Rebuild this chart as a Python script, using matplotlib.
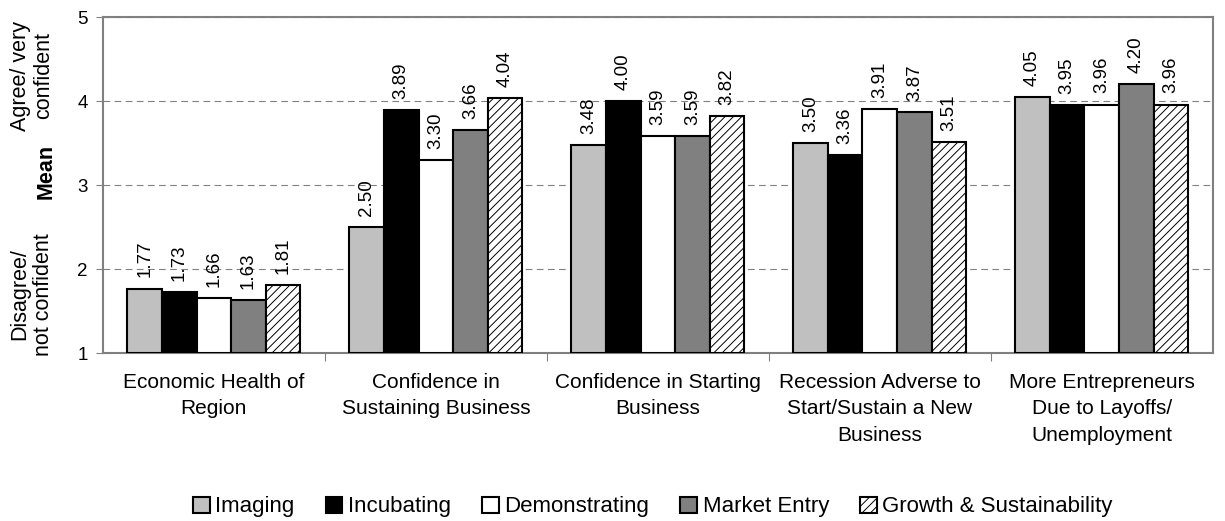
import numpy as np
import matplotlib.pyplot as plt

plt.rcParams['font.family'] = ['Liberation Sans', 'DejaVu Sans']
plt.rcParams['hatch.linewidth'] = 0.7
plt.rcParams['hatch.color'] = '#444444'

categories = ['Economic Health of\nRegion', 'Confidence in\nSustaining Business',
              'Confidence in Starting\nBusiness', 'Recession Adverse to\nStart/Sustain a New\nBusiness',
              'More Entrepreneurs\nDue to Layoffs/\nUnemployment']
series = ['Imaging', 'Incubating', 'Demonstrating', 'Market Entry', 'Growth & Sustainability']
imaging = [1.77, 2.50, 3.48, 3.50, 4.05]
incubating = [1.73, 3.89, 4.00, 3.36, 3.95]
demonstrating = [1.66, 3.30, 3.59, 3.91, 3.96]
market_entry = [1.63, 3.66, 3.59, 3.87, 4.20]
growth = [1.81, 4.04, 3.82, 3.51, 3.96]

values = [imaging, incubating, demonstrating, market_entry, growth]
colors = ['#c0c0c0', '#000000', '#ffffff', '#808080', '#ffffff']
hatches = [None, None, None, None, '////']

fig = plt.figure(figsize=(12.25, 5.21), dpi=100)
ax = fig.add_axes([0.084, 0.322, 0.906, 0.645])

x = np.arange(len(categories))
w = 0.156
for i, vals in enumerate(values):
    pos = x + (i - 2) * w
    ax.bar(pos, np.array(vals) - 1, w, bottom=1, color=colors[i], edgecolor='black',
           linewidth=1.5, hatch=hatches[i], label=series[i], zorder=3)
    for p, v in zip(pos, vals):
        ax.annotate('%.2f' % v, (p, v), xytext=(0, 8), textcoords='offset points',
                    rotation=90, ha='center', va='bottom', fontsize=13.5)

ax.set_xlim(-0.5, 4.5)
ax.set_ylim(1, 5)
ax.set_yticks([1, 2, 3, 4, 5])
ax.tick_params(axis='y', labelsize=13.5, length=5, color='#808080', pad=6)
ax.yaxis.grid(True, linestyle=(0, (6, 4)), color='#808080', linewidth=0.8)
ax.set_axisbelow(True)
ax.set_xticks(np.arange(len(categories) - 1) + 0.5)
ax.set_xticklabels([])
ax.tick_params(axis='x', length=6, color='#808080')
ax.set_xticks(x, minor=True)
ax.set_xticklabels(categories, minor=True, fontsize=15, linespacing=1.5)
ax.tick_params(axis='x', which='minor', length=0, pad=14)
for s in ax.spines.values():
    s.set_color('#808080')
    s.set_linewidth(1.5)

fig.text(0.026, 0.855, 'Agree/ very\nconfident', rotation=90, ha='center', va='center',
         fontsize=15.5, multialignment='center', linespacing=1.15)
fig.text(0.038, 0.67, 'Mean', rotation=90, ha='center', va='center', fontsize=15.5, fontweight='bold')
fig.text(0.026, 0.435, 'Disagree/\nnot confident', rotation=90, ha='center', va='center',
         fontsize=15.5, multialignment='center', linespacing=1.15)

fig.legend(loc='center', bbox_to_anchor=(0.533, 0.027), ncol=5, frameon=False, fontsize=16,
           handlelength=0.75, handleheight=0.75, handletextpad=0.25, columnspacing=1.4,
           borderpad=0)

fig.savefig('out.png', dpi=100)
